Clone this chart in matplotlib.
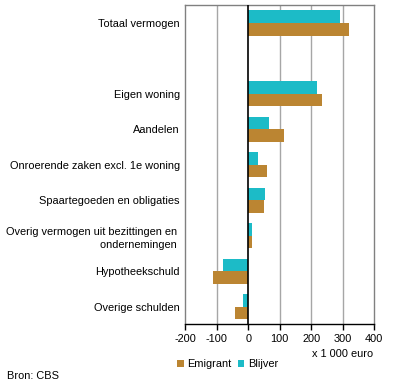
import matplotlib
matplotlib.use("Agg")
import matplotlib.pyplot as plt
import numpy as np

plt.rcParams['font.family'] = ['Liberation Sans', 'DejaVu Sans']

categories = ["Totaal vermogen", "", "Eigen woning", "Aandelen",
              "Onroerende zaken excl. 1e woning", "Spaartegoeden en obligaties",
              "Overig vermogen uit bezittingen en \nondernemingen ",
              "Hypotheekschuld", "Overige schulden"]
emigrant = [320, np.nan, 234, 113, 59, 50, 11, -112, -42]
blijver = [291, np.nan, 218, 66, 31, 53, 11, -80, -17]
xticks = [-200, -100, 0, 100, 200, 300, 400]

c_emi = "#BB8532"
c_bli = "#1CBBC7"
fs = 7.9

fig = plt.figure(figsize=(3.96, 3.89), dpi=100)
ax = fig.add_axes([185.3/396, 1-324.3/389, (374.3-185.3)/396, (324.3-5.3)/389])

y = np.arange(len(categories))
h = 0.355
ax.barh(y - h/2, blijver, height=h, color=c_bli, label="Blijver", zorder=3)
ax.barh(y + h/2, emigrant, height=h, color=c_emi, label="Emigrant", zorder=3)

ax.set_xlim(-200, 400)
ax.set_ylim(len(categories) - 0.5, -0.5)
ax.set_xticks(xticks)
ax.set_xticklabels([str(t) for t in xticks], fontsize=fs)
ax.set_yticks(y)
ax.set_yticklabels(categories, fontsize=fs, linespacing=1.45)
ax.tick_params(axis='y', length=0, pad=4)
ax.tick_params(axis='x', length=4, width=1, color='black', pad=3)

for t in [-100, 100, 200, 300]:
    ax.axvline(t, color="#A6A6A6", lw=1, zorder=1)
ax.axvline(0, color="black", lw=1.2, zorder=4)

for s in ['left', 'top', 'right']:
    ax.spines[s].set_color("#808080")
    ax.spines[s].set_linewidth(1)
ax.spines['bottom'].set_color("black")
ax.spines['bottom'].set_linewidth(1)

fig.text(373/396, 1-354/389, "x 1 000 euro", ha='right', va='center', fontsize=fs)

handles, labels = ax.get_legend_handles_labels()
leg = fig.legend([handles[1], handles[0]], [labels[1], labels[0]],
                 loc='center', bbox_to_anchor=(227.5/396, 1-364/389), ncol=2,
                 frameon=False, fontsize=fs, handlelength=0.6, handleheight=0.6,
                 handletextpad=0.3, columnspacing=0.6, borderpad=0)

fig.text(7/396, 1-376/389, "Bron: CBS", ha='left', va='center', fontsize=fs)

fig.savefig("out.png", dpi=100)
